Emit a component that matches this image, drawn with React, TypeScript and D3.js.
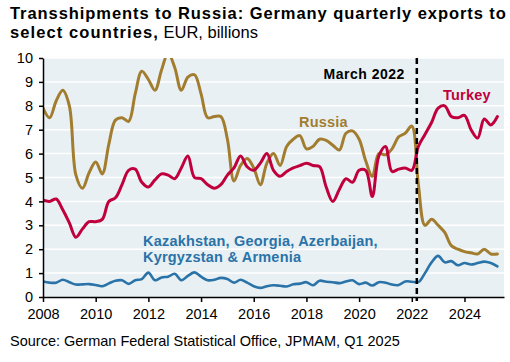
import React, { useEffect, useRef } from 'react';
import * as d3 from 'd3';

// quarterly, 2008Q1 .. 2025Q2 (plotted at quarter steps from 2008.0)
const startYear = 2008;

const russia = [
  7.9, 7.5, 8.2, 8.65, 8.0, 5.1, 4.55, 5.2, 5.65, 5.15,
  6.4, 7.4, 7.5, 7.35, 8.5, 9.45, 9.1, 8.65, 9.5, 10.2,
  9.6, 8.65, 9.2, 9.3, 8.5, 7.5, 7.55, 7.55, 6.6, 4.85,
  5.5, 5.8, 5.4, 4.7, 5.6, 6.0, 5.5, 6.3, 6.6, 6.75,
  6.2, 6.3, 6.6, 6.55, 6.35, 6.15, 6.85, 6.95, 6.6, 5.7,
  5.05, 6.0, 5.95, 6.2, 6.7, 6.85, 7.15, 4.7, 3.0, 3.25,
  3.0, 2.7, 2.15, 2.0, 1.9, 1.85, 1.8, 2.0, 1.8, 1.8,
];

const turkey = [
  4.05, 4.0, 4.1, 3.65, 3.1, 2.5, 2.85, 3.15, 3.15, 3.25,
  4.0, 4.15, 4.7, 5.3, 5.35, 4.8, 4.6, 4.9, 5.15, 5.1,
  4.95, 5.4, 5.9, 5.0, 4.95, 4.7, 4.55, 4.7, 5.1, 5.4,
  5.9, 5.45, 5.3, 5.6, 6.0, 5.3, 5.05, 5.25, 5.4, 5.5,
  5.6, 5.5, 5.45, 4.6, 4.0, 4.5, 4.95, 4.8, 5.3, 5.3,
  4.2, 5.9, 6.3, 5.25, 5.35, 5.4, 5.3, 6.3, 6.8, 7.3,
  7.9, 8.0, 7.55, 7.5, 7.6, 7.0, 6.65, 7.45, 7.2, 7.55,
];

const centralAsia = [
  0.65, 0.6, 0.6, 0.72, 0.62, 0.52, 0.53, 0.54, 0.5, 0.45,
  0.57, 0.68, 0.7, 0.55, 0.7, 0.75, 1.02, 0.7, 0.82, 0.85,
  0.97, 0.7, 0.88, 1.03, 0.85, 0.7, 0.72, 0.8, 0.75, 0.6,
  0.72, 0.6, 0.45, 0.38, 0.45, 0.49, 0.47, 0.44, 0.53, 0.56,
  0.62, 0.49, 0.68, 0.64, 0.62, 0.58, 0.65, 0.7, 0.54, 0.6,
  0.48, 0.62, 0.6, 0.52, 0.5, 0.65, 0.64, 0.62, 1.0, 1.45,
  1.72, 1.45, 1.5, 1.33, 1.42, 1.36, 1.42, 1.48, 1.42, 1.28,
];

const xTicks = [2008, 2010, 2012, 2014, 2016, 2018, 2020, 2022, 2024];
const yTicks = [0, 1, 2, 3, 4, 5, 6, 7, 8, 9, 10];
const eventDate = 2022.19;

const colors = {
  russia: '#a27d2f',
  turkey: '#c0003c',
  centralAsia: '#2a73a8',
  bg: '#e8f0f3',
};

const W = 510;
const H = 362;
const margin = { top: 58, right: 6, bottom: 65, left: 43 };

const App = () => {
  const ref = useRef<SVGSVGElement>(null);

  useEffect(() => {
    const svg = d3.select(ref.current);
    svg.selectAll('*').remove();

    const font = 'Arial, "Liberation Sans", sans-serif';
    const x = d3.scaleLinear().domain([2008, 2025.5]).range([margin.left, W - margin.right]);
    const y = d3.scaleLinear().domain([0, 10]).range([H - margin.bottom, margin.top]);
    const t = (i) => startYear + i / 4;

    // title (bold part is set a bit wider in the original)
    svg.append('text').attr('x', 10).attr('y', 19)
      .style('font-family', font).style('font-size', '16.5px').style('font-weight', 'bold')
      .style('letter-spacing', '0.93px')
      .text('Transshipments to Russia: Germany quarterly exports to');
    const sub = svg.append('text').attr('x', 10).attr('y', 37.5)
      .style('font-family', font).style('font-size', '16.5px');
    sub.append('tspan').style('font-weight', 'bold').style('letter-spacing', '1.1px')
      .text('select countries,');
    sub.append('tspan').text(' EUR, billions');

    // plot background and grid
    svg.append('rect')
      .attr('x', x(2008)).attr('y', y(10))
      .attr('width', x(2025.5) - x(2008)).attr('height', y(0) - y(10))
      .attr('fill', colors.bg);

    svg.append('g').selectAll('line').data(yTicks.filter(d => d > 0)).enter().append('line')
      .attr('x1', x(2008)).attr('x2', x(2025.5))
      .attr('y1', d => y(d)).attr('y2', d => y(d))
      .attr('stroke', 'white').attr('stroke-width', 1.5);

    svg.append('defs').append('clipPath').attr('id', 'plot-clip')
      .append('rect')
      .attr('x', x(2008)).attr('y', y(10))
      .attr('width', x(2025.5) - x(2008)).attr('height', y(0) - y(10));

    const line = d3.line<number>()
      .x((d, i) => x(t(i)))
      .y(d => y(d))
      .curve(d3.curveCatmullRom.alpha(0.5));

    const lines = svg.append('g').attr('clip-path', 'url(#plot-clip)');
    [
      { data: centralAsia, color: colors.centralAsia, w: 2.6 },
      { data: russia, color: colors.russia, w: 3 },
      { data: turkey, color: colors.turkey, w: 3 },
    ].forEach(s => {
      lines.append('path')
        .attr('d', line(s.data))
        .attr('fill', 'none')
        .attr('stroke', s.color)
        .attr('stroke-width', s.w)
        .attr('stroke-linejoin', 'round')
        .attr('stroke-linecap', 'round');
    });

    // March 2022 marker
    svg.append('line')
      .attr('x1', x(eventDate)).attr('x2', x(eventDate))
      .attr('y1', y(10)).attr('y2', y(0) + 4)
      .attr('stroke', 'black').attr('stroke-width', 2.5)
      .attr('stroke-dasharray', '6,4');

    svg.append('text').attr('x', x(eventDate) - 12).attr('y', 79)
      .attr('text-anchor', 'end')
      .style('font-family', font).style('font-size', '14px').style('font-weight', 'bold')
      .style('letter-spacing', '0.5px')
      .text('March 2022');

    // series labels
    const label = (txt, lx, ly, color) => svg.append('text')
      .attr('x', lx).attr('y', ly).attr('fill', color)
      .style('font-family', font).style('font-size', '14.5px').style('font-weight', 'bold')
      .style('letter-spacing', '0.2px')
      .text(txt);
    label('Russia', 299, 126.5, colors.russia);
    label('Turkey', 443, 100, colors.turkey);
    label('Kazakhstan, Georgia, Azerbaijan,', 143, 245.5, colors.centralAsia);
    label('Kyrgyzstan & Armenia', 143, 261.5, colors.centralAsia);

    // axes
    const yAxis = svg.append('g').attr('transform', `translate(${x(2008)},0)`)
      .call(d3.axisLeft(y).tickValues(yTicks).tickSize(4).tickPadding(6).tickSizeOuter(0));
    const xAxis = svg.append('g').attr('transform', `translate(0,${y(0)})`)
      .call(d3.axisBottom(x).tickValues(xTicks).tickFormat(d3.format('d')).tickSize(5).tickPadding(7).tickSizeOuter(0));
    [yAxis, xAxis].forEach(a => {
      a.select('.domain').attr('stroke', 'black').attr('stroke-width', 1.5);
      a.selectAll('.tick line').attr('stroke', 'black').attr('stroke-width', 1.5);
      a.selectAll('.tick text').attr('fill', 'black')
        .style('font-family', font).style('font-size', '14.5px');
    });

    // source
    svg.append('text').attr('x', 10).attr('y', 345.5)
      .style('font-family', font).style('font-size', '14.5px')
      .text('Source: German Federal Statistical Office, JPMAM, Q1 2025');
  }, []);

  return (
    <svg ref={ref} width={W} height={H}
      style={{ position: 'fixed', left: 0, top: 0, background: 'white' }} />
  );
};

export default App;
